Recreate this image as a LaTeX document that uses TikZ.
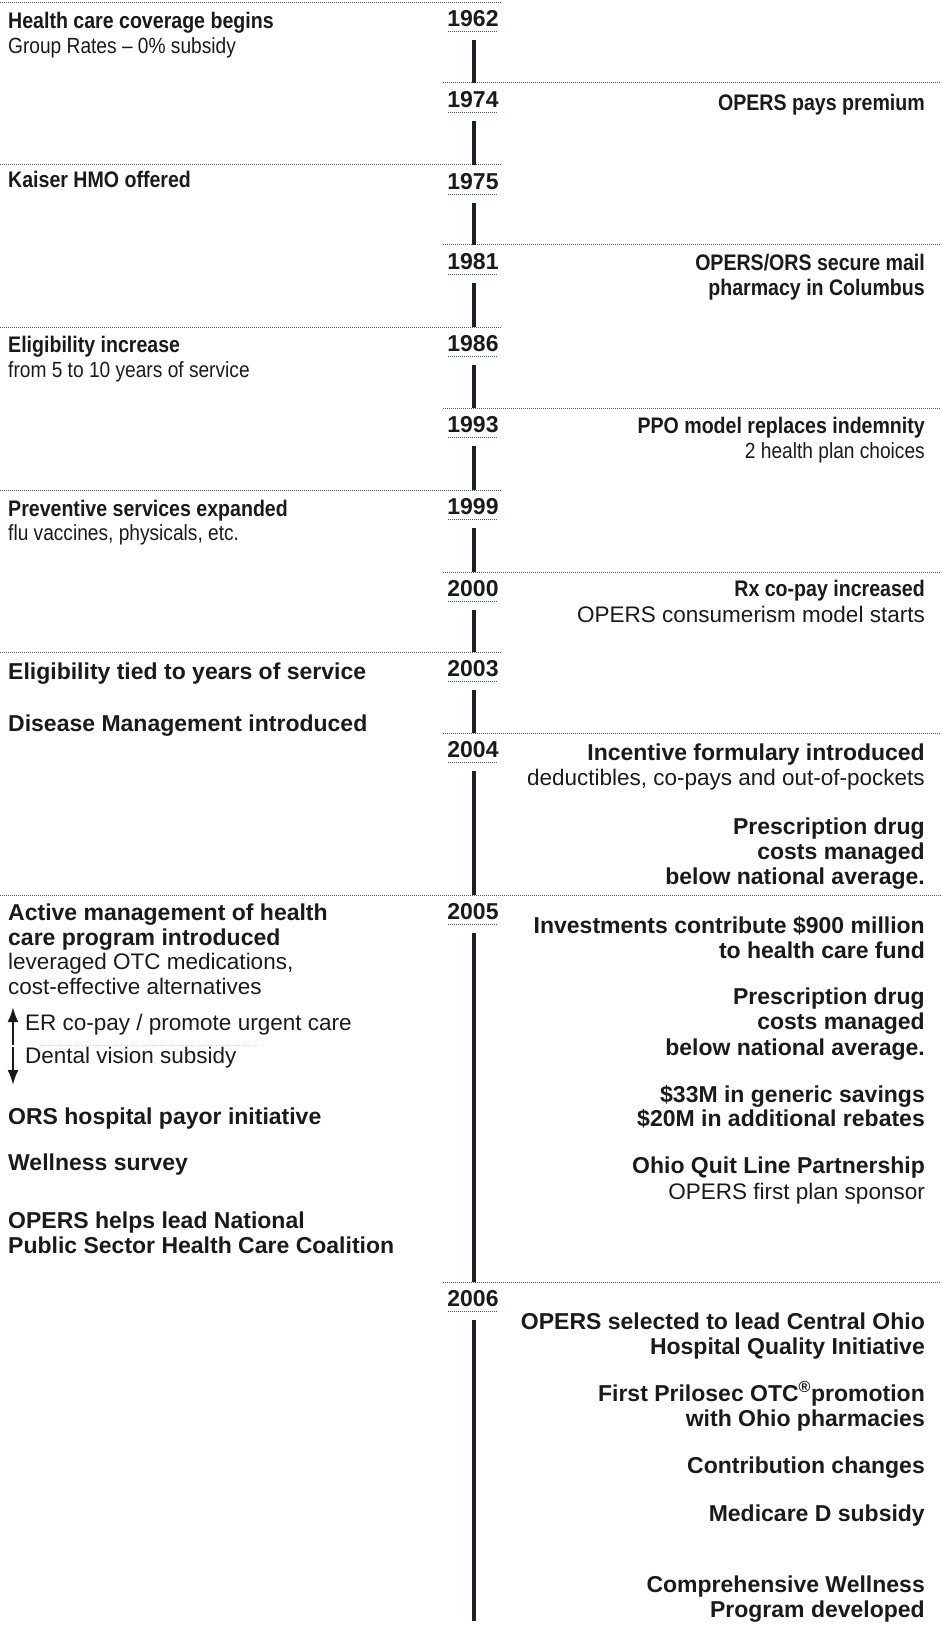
\documentclass[tikz,border=0pt]{standalone}
\usepackage{fontspec}
\setmainfont{Liberation Sans}
\newfontfamily\condfont[FakeStretch=0.87]{Liberation Sans}
\usetikzlibrary{arrows.meta}
\definecolor{ink}{HTML}{1A1A1C}
\definecolor{barc}{HTML}{1C2029}
\definecolor{sepc}{HTML}{555560}
\definecolor{ulc}{HTML}{3A5580}
\begin{document}
\begin{tikzpicture}[x=1pt,y=-1pt,
  sepline/.style={densely dotted, line width=1pt, draw=sepc},
  yrline/.style={densely dotted, line width=1pt, draw=ulc},
  barseg/.style={line width=4.5pt, draw=barc},
  upB/.style={font=\condfont\fontsize{22.5}{27}\selectfont\bfseries},
  upR/.style={font=\condfont\fontsize{22}{27}\selectfont},
  loB/.style={font=\fontsize{23}{27}\selectfont\bfseries},
  loR/.style={font=\fontsize{22.5}{27}\selectfont},
  lefttext/.style={anchor=mid west, inner sep=0pt, text=ink},
  righttext/.style={anchor=mid east, inner sep=0pt, text=ink},
  yr/.style={anchor=center, inner sep=0pt, text=ink, font=\fontsize{23}{27}\selectfont\bfseries},
  arr/.style={line width=2.4pt, draw=ink, -{Latex[length=15pt,width=11pt]}}
]
\useasboundingbox (0,0) rectangle (941,1645);

% ---------- separators ----------
\coordinate (s62) at (474,3);
\coordinate (s74) at (474,83);
\coordinate (s75) at (474,165);
\coordinate (s81) at (474,245);
\coordinate (s86) at (474,327);
\coordinate (s93) at (474,408);
\coordinate (s99) at (474,490);
\coordinate (s00) at (474,572);
\coordinate (s03) at (474,652);
\coordinate (s04) at (474,733);
\coordinate (s05) at (474,895);
\coordinate (s06) at (474,1282);
\coordinate (bend) at (474,1621);

\draw[sepline] (0,3) -- (501,3);
\draw[sepline] (443,83) -- (941,83);
\draw[sepline] (0,165) -- (501,165);
\draw[sepline] (443,245) -- (941,245);
\draw[sepline] (0,327) -- (501,327);
\draw[sepline] (443,408) -- (941,408);
\draw[sepline] (0,490) -- (501,490);
\draw[sepline] (443,572) -- (941,572);
\draw[sepline] (0,652) -- (501,652);
\draw[sepline] (443,733) -- (941,733);
\draw[sepline] (0,895) -- (941,895);
\draw[sepline] (443,1282) -- (941,1282);

% ---------- years ----------
\node[yr] (y62) at (473,19) {1962};
\node[yr] (y74) at (473,100) {1974};
\node[yr] (y75) at (473,182) {1975};
\node[yr] (y81) at (473,262) {1981};
\node[yr] (y86) at (473,344) {1986};
\node[yr] (y93) at (473,425) {1993};
\node[yr] (y99) at (473,507) {1999};
\node[yr] (y00) at (473,589) {2000};
\node[yr] (y03) at (473,669) {2003};
\node[yr] (y04) at (473,750) {2004};
\node[yr] (y05) at (473,912) {2005};
\node[yr] (y06) at (473,1299) {2006};

\foreach \n in {62,74,75,81,86,93,99,00,03,04,05,06}{
  \draw[yrline] ([xshift=-25pt,yshift=-4pt]y\n.south) -- ([xshift=25pt,yshift=-4pt]y\n.south);
}

% ---------- bar ----------
\draw[barseg] ([yshift=-13pt]y62.south -| s62) -- (s74);
\draw[barseg] ([yshift=-13pt]y74.south -| s74) -- (s75);
\draw[barseg] ([yshift=-13pt]y75.south -| s75) -- (s81);
\draw[barseg] ([yshift=-13pt]y81.south -| s81) -- (s86);
\draw[barseg] ([yshift=-13pt]y86.south -| s86) -- (s93);
\draw[barseg] ([yshift=-13pt]y93.south -| s93) -- (s99);
\draw[barseg] ([yshift=-13pt]y99.south -| s99) -- (s00);
\draw[barseg] ([yshift=-13pt]y00.south -| s00) -- (s03);
\draw[barseg] ([yshift=-13pt]y03.south -| s03) -- (s04);
\draw[barseg] ([yshift=-13pt]y04.south -| s04) -- (s05);
\draw[barseg] ([yshift=-13pt]y05.south -| s05) -- (s06);
\draw[barseg] ([yshift=-13pt]y06.south -| s06) -- (bend);

% ---------- left texts ----------
\node[lefttext,upB] (l1) at (8,26) {Health care coverage begins};
\node[lefttext,upR] (l2) at (8,51) {Group Rates – 0\% subsidy};
\node[lefttext,upB] (l3) at (8,185) {Kaiser HMO offered};
\node[lefttext,upB] (l4) at (8,350) {Eligibility increase};
\node[lefttext,upR] (l5) at (8,375) {from 5 to 10 years of service};
\node[lefttext,upB] (l6) at (8,514) {Preventive services expanded};
\node[lefttext,upR] (l7) at (8,538) {flu vaccines, physicals, etc.};
\node[lefttext,loB] (l8) at (8,677) {Eligibility tied to years of service};
\node[lefttext,loB] (l9) at (8,729) {Disease Management introduced};
\node[lefttext,loB] (l10) at (8,918) {Active management of health};
\node[lefttext,loB] (l11) at (8,943) {care program introduced};
\node[lefttext,loR] (l12) at (8,967) {leveraged OTC medications,};
\node[lefttext,loR] (l13) at (8,992) {cost-effective alternatives};
\node[lefttext,loR] (l14) at (25,1028) {ER co-pay / promote urgent care};
\node[lefttext,loR] (l15) at (25,1061) {Dental vision subsidy};
\node[lefttext,loB] (l16) at (8,1122) {ORS hospital payor initiative};
\node[lefttext,loB] (l17) at (8,1168) {Wellness survey};
\node[lefttext,loB] (l18) at (8,1226) {OPERS helps lead National};
\node[lefttext,loB] (l19) at (8,1251) {Public Sector Health Care Coalition};

\coordinate (au1) at (13,1045);
\coordinate (au2) at (13,1007);
\coordinate (ad1) at (13,1047);
\coordinate (ad2) at (13,1085);
\draw[arr] (au1) -- (au2);
\draw[arr] (ad1) -- (ad2);
\draw[dotted, line width=0.8pt, draw=black!18] (40,1045) -- (258,1045);

% ---------- right texts ----------
\node[righttext,upB] (r1) at (925,108) {OPERS pays premium};
\node[righttext,upB] (r2) at (925,268) {OPERS/ORS secure mail};
\node[righttext,upB] (r3) at (925,293) {pharmacy in Columbus};
\node[righttext,upB] (r4) at (925,431) {PPO model replaces indemnity};
\node[righttext,upR] (r5) at (925,456) {2 health plan choices};
\node[righttext,upB] (r6) at (925,594) {Rx co-pay increased};
\node[righttext,loR] (r7) at (925,620) {OPERS consumerism model starts};
\node[righttext,loB] (r8) at (925,758) {Incentive formulary introduced};
\node[righttext,loR] (r9) at (925,783) {deductibles, co-pays and out-of-pockets};
\node[righttext,loB] (r10) at (925,832) {Prescription drug};
\node[righttext,loB] (r11) at (925,857) {costs managed};
\node[righttext,loB] (r12) at (925,882) {below national average.};
\node[righttext,loB] (r13) at (925,931) {Investments contribute \$900 million};
\node[righttext,loB] (r14) at (925,956) {to health care fund};
\node[righttext,loB] (r15) at (925,1002) {Prescription drug};
\node[righttext,loB] (r16) at (925,1027) {costs managed};
\node[righttext,loB] (r17) at (925,1053) {below national average.};
\node[righttext,loB] (r18) at (925,1100) {\$33M in generic savings};
\node[righttext,loB] (r19) at (925,1124) {\$20M in additional rebates};
\node[righttext,loB] (r20) at (925,1171) {Ohio Quit Line Partnership};
\node[righttext,loR] (r21) at (925,1197) {OPERS first plan sponsor};
\node[righttext,loB] (r22) at (925,1327) {OPERS selected to lead Central Ohio};
\node[righttext,loB] (r23) at (925,1352) {Hospital Quality Initiative};
\node[righttext,loB] (r24) at (925,1399) {First Prilosec OTC\textsuperscript{®}promotion};
\node[righttext,loB] (r25) at (925,1424) {with Ohio pharmacies};
\node[righttext,loB] (r26) at (925,1471) {Contribution changes};
\node[righttext,loB] (r27) at (925,1519) {Medicare D subsidy};
\node[righttext,loB] (r28) at (925,1590) {Comprehensive Wellness};
\node[righttext,loB] (r29) at (925,1615) {Program developed};
\end{tikzpicture}
\end{document}
